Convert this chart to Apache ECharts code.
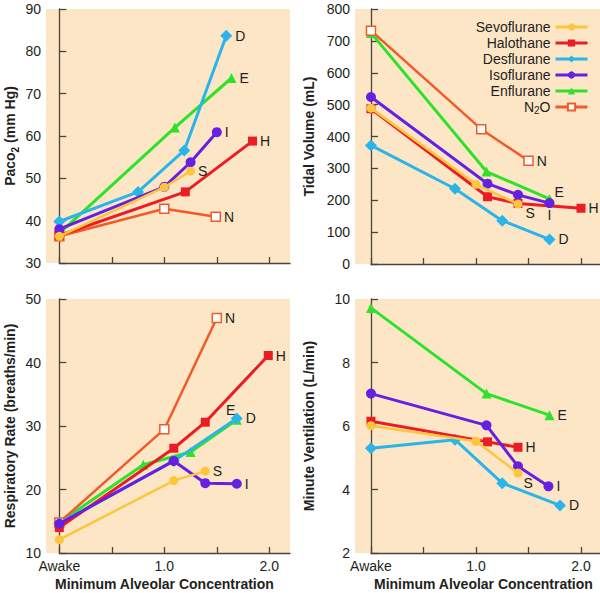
<!DOCTYPE html>
<html><head><meta charset="utf-8">
<script src="https://cdn.jsdelivr.net/npm/echarts@6/dist/echarts.min.js"></script>
<style>html,body{margin:0;padding:0;background:#fff}#c{width:600px;height:593px}</style>
</head><body><div id="c"></div>
<script>
// ---------- data ----------
const drugNames = ['Sevoflurane','Halothane','Desflurane','Isoflurane','Enflurane','N2O'];
const drugTags  = ['S','H','D','I','E','N'];
const macTicks = [0, 0.5, 1, 1.5, 2];
const macTickLabels = ['Awake', '', '1.0', '', '2.0'];

// Paco2 (mm Hg)
const pacoSevo = [[0,36.3],[1.0,47.9],[1.25,51.7]];
const pacoHalo = [[0,36.5],[1.2,46.8],[1.84,58.8]];
const pacoDes  = [[0,39.8],[0.75,46.8],[1.19,56.6],[1.59,83.7]];
const pacoIso  = [[0,38.0],[1.0,48.0],[1.25,53.8],[1.5,60.9]];
const pacoEnf  = [[0,37.0],[1.1,62.0],[1.64,73.7]];
const pacoN2O  = [[0,36.3],[1.0,42.8],[1.49,40.9]];

// Tidal volume (mL)
const tvSevo = [[0,489],[1.0,250],[1.4,188]];
const tvHalo = [[0,487],[1.11,211],[1.4,190],[2.0,175]];
const tvDes  = [[0,372],[0.8,236],[1.25,136],[1.7,77]];
const tvIso  = [[0,524],[1.11,252],[1.4,217],[1.7,191]];
const tvEnf  = [[0,725],[1.1,290],[1.7,204]];
const tvN2O  = [[0,732],[1.05,423],[1.5,324]];

// Respiratory rate (breaths/min)
const rrSevo = [[0,12.1],[1.09,21.4],[1.39,22.9]];
const rrHalo = [[0,14.0],[1.09,26.5],[1.39,30.6],[1.99,41.1]];
const rrDes  = [[0,14.7],[1.09,24.5],[1.69,31.2]];
const rrIso  = [[0,14.6],[1.09,24.5],[1.39,21.0],[1.69,20.9]];
const rrEnf  = [[0,14.8],[0.8,23.9],[1.25,25.9],[1.69,31.0]];
const rrN2O  = [[0,14.8],[1.0,29.5],[1.5,47.0]];

// Minute ventilation (L/min)
const mvSevo = [[0,6.01],[1.0,5.52],[1.4,4.52]];
const mvHalo = [[0,6.15],[1.11,5.50],[1.4,5.33]];
const mvDes  = [[0,5.30],[0.8,5.57],[1.25,4.20],[1.8,3.50]];
const mvIso  = [[0,7.02],[1.1,6.02],[1.4,4.73],[1.69,4.10]];
const mvEnf  = [[0,9.72],[1.1,7.02],[1.7,6.34]];

// ---------- styling ----------
const FONT = '"Liberation Sans", Arial, Helvetica, sans-serif';
const TXT = '#231f20';
const AXC = '#4b433d';
const BG = '#fde6c6';
const drugStyle = [
  {color:'#fcc53e', fill:'#fcc53e', symbol:'circle',   size:9,  lw:2.5, z:7},
  {color:'#ec1c24', fill:'#ec1c24', symbol:'rect',     size:9,  lw:3,   z:5},
  {color:'#2ab5ea', fill:'#2ab5ea', symbol:'diamond',  size:12, lw:3,   z:4},
  {color:'#6520e0', fill:'#6520e0', symbol:'circle',   size:10, lw:3,   z:6},
  {color:'#2ee22b', fill:'#2ee22b', symbol:'triangle', size:10, lw:3,   z:2},
  {color:'#f15a29', fill:'#ffffff', symbol:'rect',     size:9,  lw:2.5, z:3, bw:1.5}
];
const R = {position:'right', distance:3};

const panels = [
  {grid:{left:46,right:310,top:9,bottom:330}, awake:59.3, xMin:-0.127, xMax:2.197,
   yMin:30, yMax:90, yInt:10, yName:'{b|Paco}{s|2}{b| (mm Hg)}', nameGap:26, xLabels:false,
   series:[[0,pacoSevo,R],[1,pacoHalo,R],[2,pacoDes,R],[3,pacoIso,R],[4,pacoEnf,R],[5,pacoN2O,R]]},
  {grid:{left:355,right:0,top:9,bottom:329}, awake:371, xMin:-0.152, xMax:2.181,
   yMin:0, yMax:800, yInt:100, yName:'{b|Tidal Volume (mL)}', nameGap:36, xLabels:false,
   series:[[0,tvSevo,{position:'right',distance:3,offset:[0,9]}],[1,tvHalo,R],[2,tvDes,R],
           [3,tvIso,{position:'bottom',distance:0}],[4,tvEnf,{position:'right',distance:3,offset:[-3,-7]}],[5,tvN2O,R]]},
  {grid:{left:46,right:310,top:299,bottom:40}, awake:59.3, xMin:-0.127, xMax:2.197,
   yMin:10, yMax:50, yInt:10, yName:'{b|Respiratory Rate (breaths/min)}', nameGap:26, xLabels:true,
   series:[[0,rrSevo,R],[1,rrHalo,R],[2,rrDes,R],[3,rrIso,R],[4,rrEnf,{position:'top',distance:3,offset:[-6,5]}],[5,rrN2O,R]]},
  {grid:{left:355,right:0,top:299,bottom:40}, awake:371, xMin:-0.152, xMax:2.181,
   yMin:2, yMax:10, yInt:2, yName:'{b|Minute Ventilation (L/min)}', nameGap:36, xLabels:true,
   series:[[0,mvSevo,{position:'right',distance:3,offset:[-2,10]}],[1,mvHalo,R],[2,mvDes,R],[3,mvIso,R],[4,mvEnf,R]]}
];

const grids = [], xAxes = [], yAxes = [], series = [];
panels.forEach((p, i) => {
  grids.push(Object.assign({show:true, backgroundColor:BG, borderWidth:0, outerBoundsMode:'none', containLabel:false}, p.grid));
  grids.push(Object.assign({show:false, outerBoundsMode:'none', containLabel:false}, p.grid, {left:p.awake}));
  // data axes
  xAxes.push({type:'value', gridIndex:2*i, min:p.xMin, max:p.xMax, show:false});
  yAxes.push({type:'value', gridIndex:2*i, min:p.yMin, max:p.yMax, interval:p.yInt,
    axisLine:{show:true, lineStyle:{color:AXC, width:1.3}},
    axisTick:{show:true, inside:true, length:7, lineStyle:{color:AXC, width:1.3}},
    axisLabel:{show:true, margin:5, fontSize:14, color:TXT, fontFamily:FONT},
    splitLine:{show:false},
    name:p.yName, nameLocation:'middle', nameRotate:90, nameGap:p.nameGap,
    nameTextStyle:{fontFamily:FONT, color:TXT, rich:{
      b:{fontSize:14, fontWeight:'bold', color:TXT, fontFamily:FONT, lineHeight:20, verticalAlign:'middle'},
      s:{fontSize:10, fontWeight:'bold', color:TXT, fontFamily:FONT, lineHeight:20, verticalAlign:'bottom'}}}
  });
  // display x axis (starts at Awake)
  xAxes.push({type:'value', gridIndex:2*i+1, min:0, max:p.xMax,
    axisLine:{show:true, lineStyle:{color:AXC, width:1.3}},
    axisTick:{show:true, inside:true, length:6, customValues:macTicks, lineStyle:{color:AXC, width:1.3}},
    axisLabel:{show:p.xLabels, customValues:macTicks, margin:6, fontSize:14, color:TXT, fontFamily:FONT,
      formatter:(v)=>{const k = macTicks.indexOf(v); return k>=0 ? macTickLabels[k] : '';}},
    splitLine:{show:false}
  });
  yAxes.push({type:'value', gridIndex:2*i+1, min:0, max:1, show:false});

  p.series.forEach(([d, pts, lab]) => {
    const st = drugStyle[d];
    series.push({
      type:'line', name:drugNames[d], xAxisIndex:2*i, yAxisIndex:2*i,
      data: pts.map((pt, k) => k === pts.length-1
        ? {value:pt, label:Object.assign({show:true, formatter:drugTags[d], fontSize:14, color:TXT, fontFamily:FONT}, lab)}
        : {value:pt}),
      symbol:st.symbol, symbolSize:st.size, showAllSymbol:true,
      lineStyle:{color:st.color, width:st.lw},
      itemStyle:{color:st.fill, borderColor:st.color, borderWidth:st.bw || 0, opacity:1},
      z:st.z, clip:false, animation:false, emphasis:{disabled:true}
    });
  });
});

const chart = echarts.init(document.getElementById('c'), null, {renderer:'svg'});
chart.setOption({
  animation:false,
  textStyle:{fontFamily:FONT},
  grid:grids, xAxis:xAxes, yAxis:yAxes, series:series,
  title:[
    {text:'Minimum Alveolar Concentration', left:55, top:577, padding:0, textStyle:{fontSize:14, fontWeight:'bold', color:TXT, fontFamily:FONT}},
    {text:'Minimum Alveolar Concentration', left:374, top:577, padding:0, textStyle:{fontSize:14, fontWeight:'bold', color:TXT, fontFamily:FONT}}
  ],
  legend:{
    data:drugNames, orient:'vertical', right:11, top:20, align:'right',
    itemWidth:32, itemHeight:9, itemGap:2, padding:0,
    selectedMode:false,
    lineStyle:{width:3},
    formatter:(n)=> n === 'N2O' ? '{t|N}{u|2}{t|O}' : '{t|' + n + '}',
    textStyle:{fontSize:14, color:TXT, fontFamily:FONT, rich:{
      t:{fontSize:14, color:TXT, fontFamily:FONT, lineHeight:16, verticalAlign:'middle'},
      u:{fontSize:10, color:TXT, fontFamily:FONT, lineHeight:16, verticalAlign:'bottom'}}}
  }
});
</script>
</body></html>
